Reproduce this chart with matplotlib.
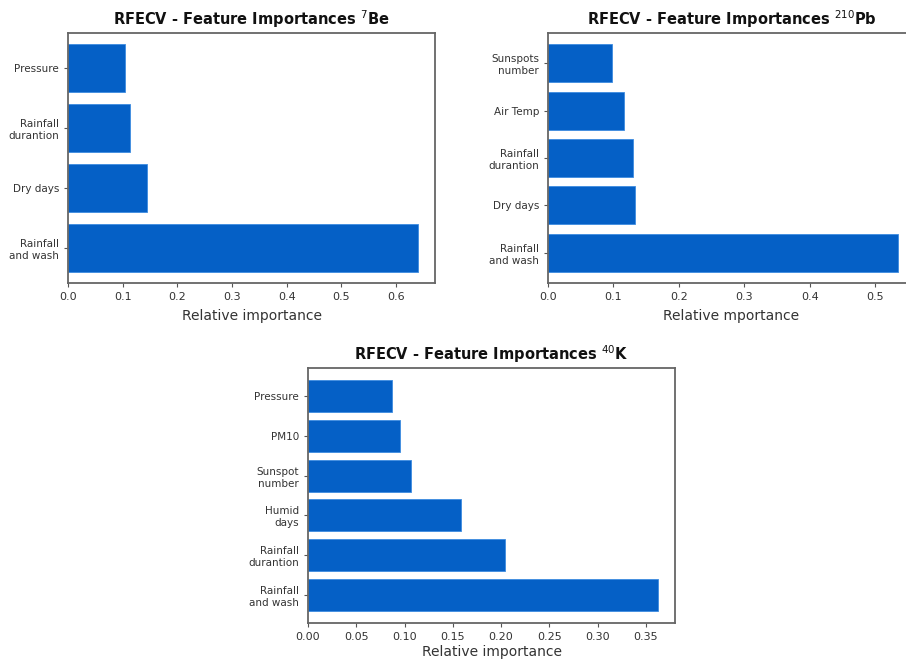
import matplotlib
matplotlib.use('Agg')
import matplotlib.pyplot as plt

# feature importances per radionuclide (bottom bar first)
be_features = ['Rainfall\nand wash', 'Dry days', 'Rainfall\ndurantion', 'Pressure']
be_values = [0.639, 0.144, 0.113, 0.104]

pb_features = ['Rainfall\nand wash', 'Dry days', 'Rainfall\ndurantion', 'Air Temp', 'Sunspots\nnumber']
pb_values = [0.534, 0.133, 0.130, 0.116, 0.098]

k_features = ['Rainfall\nand wash', 'Rainfall\ndurantion', 'Humid\ndays', 'Sunspot\nnumber', 'PM10', 'Pressure']
k_values = [0.362, 0.204, 0.158, 0.107, 0.0955, 0.0872]

be_ticks = [0.0, 0.1, 0.2, 0.3, 0.4, 0.5, 0.6]
pb_ticks = [0.0, 0.1, 0.2, 0.3, 0.4, 0.5]
k_ticks = [0.00, 0.05, 0.10, 0.15, 0.20, 0.25, 0.30, 0.35]

bar_color = '#0560c6'
text_color = '#333333'

fig = plt.figure(figsize=(9.06, 6.6), dpi=100)


def draw_panel(rect, features, values, ticks, fmt, title, xlabel, labelpad=5):
    ax = fig.add_axes(rect)
    ax.barh(range(len(values)), values, height=0.8, color=bar_color,
            edgecolor='#3d8ce0', linewidth=0.6)
    ax.set_yticks(range(len(values)))
    ax.set_yticklabels(features, fontsize=7.5, color=text_color, linespacing=1.25)
    ax.set_xticks(ticks)
    ax.set_xticklabels([fmt.format(t) for t in ticks], fontsize=8, color=text_color)
    ax.set_title(title, fontsize=10.5, fontweight='bold', color='#111111', pad=6)
    ax.set_xlabel(xlabel, fontsize=10, color=text_color, labelpad=labelpad)
    ax.tick_params(length=3, width=0.8, colors='#555555', labelcolor=text_color)
    for s in ax.spines.values():
        s.set_color('#666666')
        s.set_linewidth(1.3)
    return ax


draw_panel([68 / 906, 1 - 283 / 660, 367 / 906, 250 / 660],
           be_features, be_values, be_ticks, '{:.1f}',
           r'RFECV - Feature Importances $^{7}$Be', 'Relative importance')

draw_panel([548 / 906, 1 - 283 / 660, 367 / 906, 250 / 660],
           pb_features, pb_values, pb_ticks, '{:.1f}',
           r'RFECV - Feature Importances $^{210}$Pb', 'Relative mportance')

draw_panel([308 / 906, 1 - 623 / 660, 367 / 906, 255 / 660],
           k_features, k_values, k_ticks, '{:.2f}',
           r'RFECV - Feature Importances $^{40}$K', 'Relative importance', labelpad=2)

fig.savefig('out.png', dpi=100)
